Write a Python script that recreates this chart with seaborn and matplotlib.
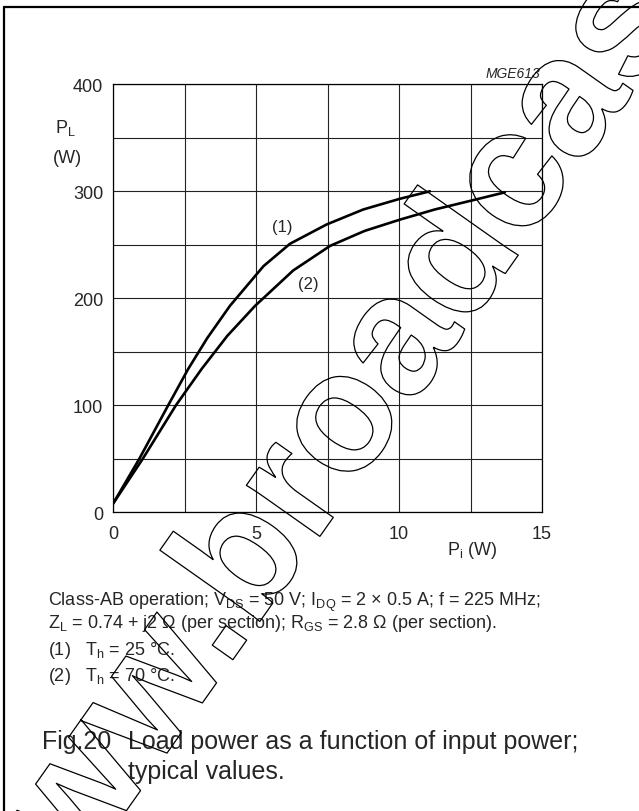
import matplotlib
matplotlib.use("Agg")
import matplotlib.pyplot as plt
import matplotlib.patheffects as pe
import matplotlib.transforms as mtransforms
from matplotlib.lines import Line2D
import pandas as pd
import seaborn as sns

# curve (1): Th = 25 degC, curve (2): Th = 70 degC
pi_1 = [0, 0.92, 1.93, 2.63, 3.3, 4.09, 5.26, 6.19, 7.47, 8.75, 10.03, 11.08]
pl_1 = [8, 50, 100, 134, 163, 193, 230, 251, 269, 283, 293, 300]
pi_2 = [0, 1.04, 2.2, 3.1, 4.0, 4.97, 6.3, 7.59, 8.8, 10.03, 11.25, 12.48, 13.7]
pl_2 = [8, 50, 100, 134, 165, 193, 226, 249, 263, 273.5, 283, 291, 299]
x_ticks = [0, 5, 10, 15]
y_ticks = [0, 100, 200, 300, 400]

W, H = 639, 812

sns.set_style("white")
plt.rcParams["font.family"] = ["Liberation Sans", "DejaVu Sans"]
plt.rcParams["mathtext.fontset"] = "custom"
plt.rcParams["mathtext.rm"] = "Liberation Sans"
plt.rcParams["mathtext.default"] = "regular"

df = pd.concat([
    pd.DataFrame({"Pi": pi_1, "PL": pl_1, "curve": "(1)"}),
    pd.DataFrame({"Pi": pi_2, "PL": pl_2, "curve": "(2)"}),
])

fig = plt.figure(figsize=(W / 100, H / 100), dpi=100)
ax = fig.add_axes([113 / W, 1 - 513.3 / H, 429 / W, 428 / H])

sns.lineplot(data=df, x="Pi", y="PL", hue="curve", palette=["black", "black"],
             linewidth=1.9, legend=False, sort=False, ax=ax)

# grid every 2.5 W / 50 W, labels only on the major values
ax.set_xlim(0, 15)
ax.set_ylim(0, 400)
xt = [i * 2.5 for i in range(7)]
yt = [i * 50 for i in range(9)]
ax.set_xticks(xt)
ax.set_yticks(yt)
ax.set_xticklabels([f"{t:g}" if t in x_ticks else "" for t in xt])
ax.set_yticklabels([f"{t:g}" if t in y_ticks else "" for t in yt])
ax.grid(True, color="#222222", linewidth=0.8)
ax.tick_params(length=0, labelsize=13, pad=7)
ax.tick_params(axis="x", pad=9)
for s in ax.spines.values():
    s.set_color("black")
    s.set_linewidth(0.9)
ax.set_xlabel("")
ax.set_ylabel("")

ax.text(5.91, 267, "(1)", fontsize=12, ha="center", va="center")
ax.text(6.84, 214, "(2)", fontsize=12, ha="center", va="center")


def px(x, y):
    return x / W, 1 - y / H


fig.text(*px(540, 78), "MGE613", fontsize=10, style="italic", ha="right", va="baseline")
fig.text(*px(55, 133), "$P_L$", fontsize=13, ha="left", va="baseline")
fig.text(*px(53, 163), "(W)", fontsize=13, ha="left", va="baseline")
fig.text(*px(447, 555), "$P_i$ (W)", fontsize=13, ha="left", va="baseline")

cap = 13
fig.text(*px(48, 606),
         "Class-AB operation; $V_{DS}$ = 50 V; $I_{DQ}$ = 2 × 0.5 A; f = 225 MHz;",
         fontsize=cap, ha="left", va="baseline")
fig.text(*px(48, 628),
         "$Z_L$ = 0.74 + j2 Ω (per section); $R_{GS}$ = 2.8 Ω (per section).",
         fontsize=cap, ha="left", va="baseline")
fig.text(*px(48, 655), "(1)   $T_h$ = 25 °C.", fontsize=cap, ha="left", va="baseline")
fig.text(*px(48, 681), "(2)   $T_h$ = 70 °C.", fontsize=cap, ha="left", va="baseline")
fig.text(*px(42, 749), "Fig.20", fontsize=18, ha="left", va="baseline")
fig.text(*px(128, 749), "Load power as a function of input power;", fontsize=18,
         ha="left", va="baseline")
fig.text(*px(128, 779), "typical values.", fontsize=18, ha="left", va="baseline")

# page frame (top and left edges)
fig.add_artist(Line2D([4 / W, 1], [1 - 8 / H, 1 - 8 / H], color="black", lw=1.6))
fig.add_artist(Line2D([4 / W, 4 / W], [0, 1 - 8 / H], color="black", lw=1.6))

# outlined watermark
fig.text(2, -176, "www.broadcast", fontsize=122, fontweight="bold",
         rotation=54.8, rotation_mode="anchor", ha="left", va="baseline",
         color="none", transform=mtransforms.IdentityTransform(),
         path_effects=[pe.Stroke(linewidth=0.9, foreground="black")])

fig.savefig("out.png", dpi=100)
